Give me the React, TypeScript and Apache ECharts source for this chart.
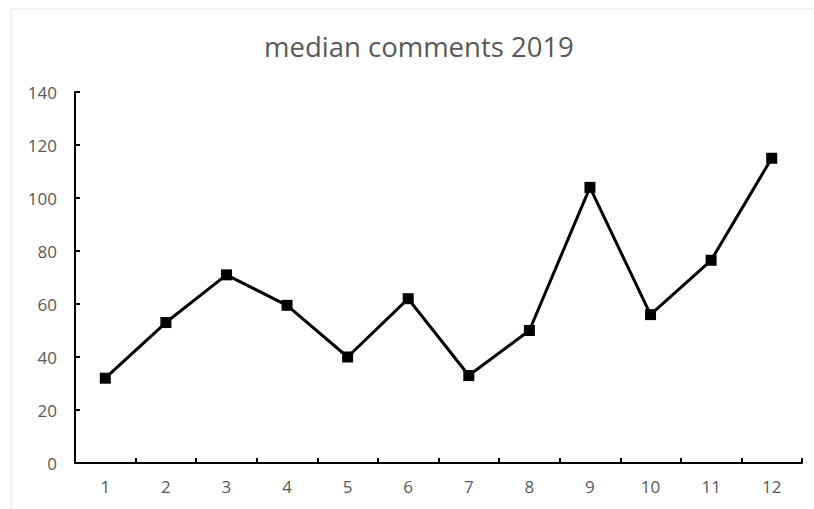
import React, { useEffect, useRef } from "react";
import * as echarts from "echarts";

const categories = ["1", "2", "3", "4", "5", "6", "7", "8", "9", "10", "11", "12"];
const medianComments = [32, 53, 71, 59.5, 40, 62, 33, 50, 104, 56, 76.5, 115];
const titleText = "median comments 2019";

export default function App() {
  const ref = useRef<HTMLDivElement>(null);
  useEffect(() => {
    if (!ref.current) return;
    const chart = echarts.init(ref.current, undefined, { renderer: "svg" });
    const font = "Open Sans, Noto Sans, sans-serif";
    chart.setOption({
      animation: false,
      backgroundColor: "#ffffff",
      title: {
        text: titleText,
        left: 259,
        top: 27,
        textStyle: { color: "#595959", fontSize: 27.5, fontWeight: "normal", fontFamily: font },
      },
      graphic: [
        {
          type: "rect",
          shape: { x: 11, y: 9, width: 900, height: 700 },
          style: { fill: "none", stroke: "#e3e3e3", lineWidth: 1 },
          silent: true,
          z: -1,
        },
      ],
      grid: { left: 75, right: 12, top: 92, bottom: 46 },
      xAxis: {
        type: "category",
        data: categories,
        boundaryGap: true,
        axisLine: { lineStyle: { color: "#000", width: 2 } },
        axisTick: { show: true, inside: true, length: 5, alignWithLabel: false, lineStyle: { color: "#000", width: 2 } },
        axisLabel: { color: "#595959", fontSize: 17, margin: 15, fontFamily: font },
        splitLine: { show: false },
      },
      yAxis: {
        type: "value",
        min: 0,
        max: 140,
        interval: 20,
        axisLine: { show: true, lineStyle: { color: "#000", width: 2 } },
        axisTick: { show: true, inside: true, length: 5, lineStyle: { color: "#000", width: 2 } },
        axisLabel: { color: "#595959", fontSize: 17, margin: 18, fontFamily: font },
        splitLine: { show: false },
      },
      series: [
        {
          type: "line",
          data: medianComments,
          symbol: "rect",
          symbolSize: 11,
          itemStyle: { color: "#000" },
          lineStyle: { color: "#000", width: 3 },
        },
      ],
    });
    return () => chart.dispose();
  }, []);
  return <div ref={ref} style={{ position: "absolute", left: 0, top: 0, width: 814, height: 509 }} />;
}
